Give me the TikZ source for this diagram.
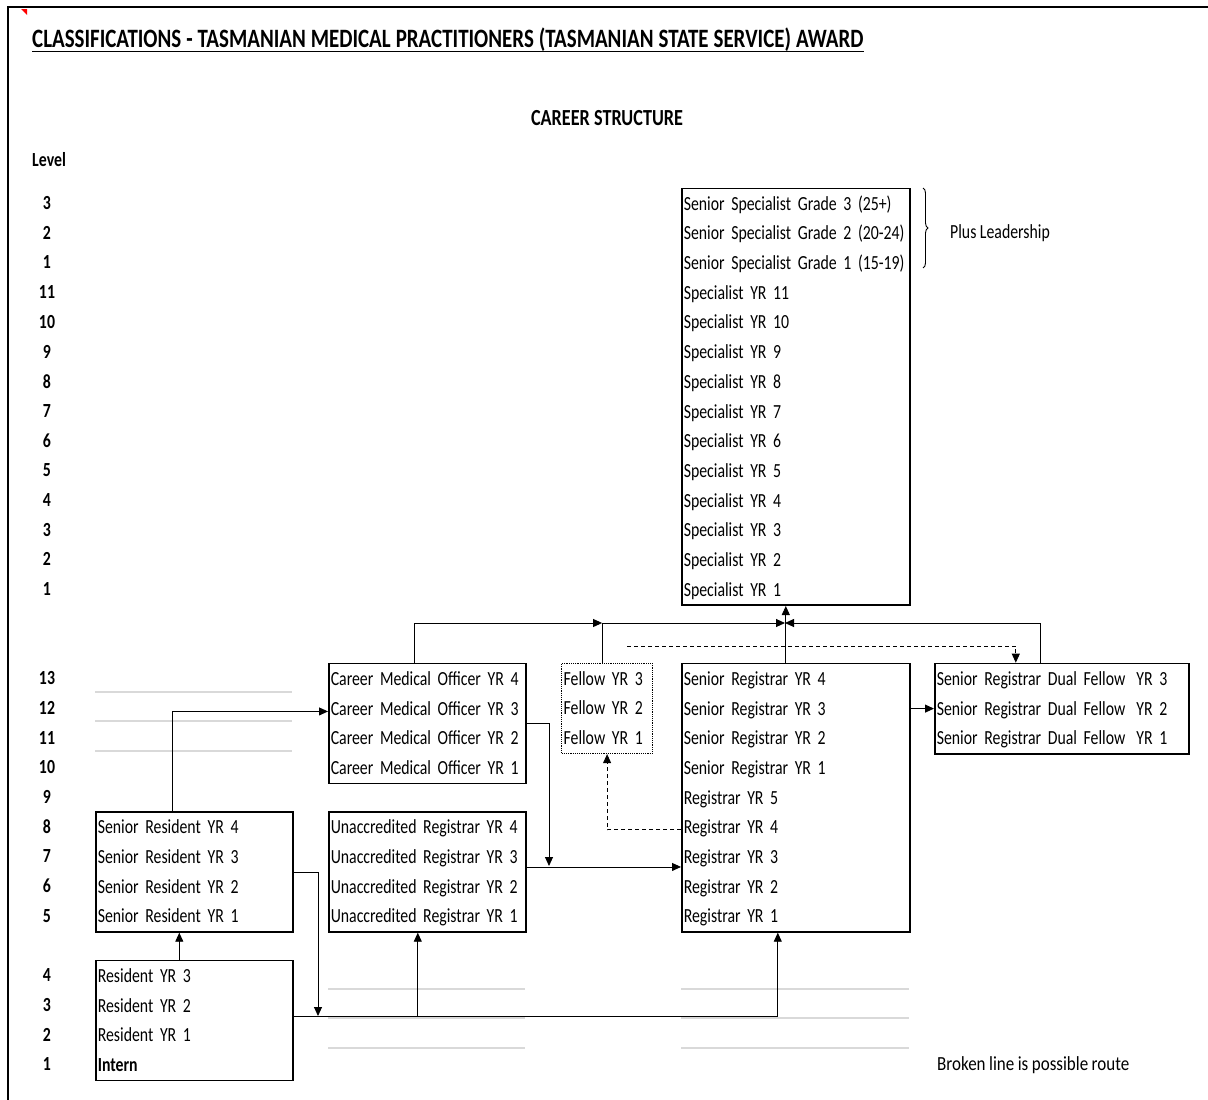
\documentclass[tikz,border=0pt]{standalone}
\usepackage{fontspec}
\setmainfont{Carlito}[FakeStretch=0.79]
\newfontfamily\widefont{Carlito}[FakeStretch=0.85]
\usetikzlibrary{arrows.meta,positioning,decorations.pathreplacing}

\newcommand\cellfont{\fontsize{20}{29.7}\selectfont\spaceskip=3.5pt plus 1pt minus 1pt\relax}
\newcommand\headfont{\fontsize{26.5}{30}\selectfont\bfseries\spaceskip=5pt plus 1pt minus 1pt\relax}
\newcommand\subheadfont{\fontsize{23}{26}\selectfont\bfseries\spaceskip=4.4pt plus 1pt minus 1pt\relax}
\newcommand\rs{\rule[-8.4pt]{0pt}{29.6pt}}

\tikzset{
  grade/.style={draw, line width=1.6pt, fill=white, anchor=north west, inner xsep=2pt, inner ysep=0.6pt, align=left, font=\cellfont},
  link/.style={line width=0.9pt, -{Triangle[length=9pt,width=8pt]}},
  maybe/.style={link, dash pattern=on 4pt off 3pt},
  cellrule/.style={draw=black!15, line width=1.5pt},
  lvl/.style={font=\cellfont\bfseries},
  note/.style={font=\cellfont, anchor=west, inner sep=0pt},
}

\begin{document}
\begin{tikzpicture}[x=1pt, y=-1pt]
  \useasboundingbox (0,0) rectangle (1208,1100);

  % sheet frame and comment marker
  \draw[line width=2pt] (8,1100) -- (8,7) -- (1208,7);
  \fill[red] (21,9) -- (27,9) -- (27,15) -- cycle;

  % headings
  \node[note, font=\headfont] (title) at (32,40) {CLASSIFICATIONS - TASMANIAN MEDICAL PRACTITIONERS (TASMANIAN STATE SERVICE) AWARD};
  \draw[line width=1.5pt] ([yshift=-3.5pt]title.base west) -- ([yshift=-3.5pt]title.base east);
  \node[font=\subheadfont] (career) at (607,118) {CAREER STRUCTURE};
  \node[note, font=\cellfont\bfseries] (level) at (32,160) {Level};

  % level numbers
  \foreach \n [count=\k from 0] in {3,2,1,11,10,9,8,7,6,5,4,3,2,1}
    \node[lvl] (lv\k) at (47,{203+29.7*\k}) {\n};
  \foreach \n [count=\k from 16] in {13,12,11,10,9,8,7,6,5}
    \node[lvl] (lv\k) at (47,{203+29.7*\k}) {\n};
  \foreach \n [count=\k from 26] in {4,3,2,1}
    \node[lvl] (lv\k) at (47,{203+29.7*\k}) {\n};

  % grey cell borders
  \foreach \y in {692,721,751}
    \draw[cellrule] (95,\y) -- (292,\y);
  \foreach \y in {989,1018,1048}
    \draw[cellrule] (328,\y) -- (525,\y) (681,\y) -- (909,\y);

  % grades
  \node[grade, text width=224pt] (spec) at (681,187.5) {\rs Senior Specialist Grade 3 (25+)\\ \rs Senior Specialist Grade 2 (20-24)\\ \rs Senior Specialist Grade 1 (15-19)\\ \rs Specialist YR 11\\ \rs Specialist YR 10\\ \rs Specialist YR 9\\ \rs Specialist YR 8\\ \rs Specialist YR 7\\ \rs Specialist YR 6\\ \rs Specialist YR 5\\ \rs Specialist YR 4\\ \rs Specialist YR 3\\ \rs Specialist YR 2\\ \rs Specialist YR 1};
  \node[grade, text width=193pt] (cmo) at (328,662.7) {\rs Career Medical Officer YR 4\\ \rs Career Medical Officer YR 3\\ \rs Career Medical Officer YR 2\\ \rs Career Medical Officer YR 1};
  \node[grade, text width=87pt, line width=1.2pt, densely dotted] (fellow) at (561,662.7) {\rs Fellow YR 3\\ \rs Fellow YR 2\\ \rs Fellow YR 1};
  \node[grade, text width=224pt] (sreg) at (681,662.7) {\rs Senior Registrar YR 4\\ \rs Senior Registrar YR 3\\ \rs Senior Registrar YR 2\\ \rs Senior Registrar YR 1\\ \rs Registrar YR 5\\ \rs Registrar YR 4\\ \rs Registrar YR 3\\ \rs Registrar YR 2\\ \rs Registrar YR 1};
  \node[grade, text width=250pt] (dual) at (934,662.7) {\rs Senior Registrar Dual Fellow\hspace{11pt}YR 3\\ \rs Senior Registrar Dual Fellow\hspace{11pt}YR 2\\ \rs Senior Registrar Dual Fellow\hspace{11pt}YR 1};
  \node[grade, text width=193pt] (senres) at (95,811.2) {\rs Senior Resident YR 4\\ \rs Senior Resident YR 3\\ \rs Senior Resident YR 2\\ \rs Senior Resident YR 1};
  \node[grade, text width=193pt] (unacc) at (328,811.2) {\rs Unaccredited Registrar YR 4\\ \rs Unaccredited Registrar YR 3\\ \rs Unaccredited Registrar YR 2\\ \rs Unaccredited Registrar YR 1};
  \node[grade, text width=193pt] (res) at (95,959.7) {\rs Resident YR 3\\ \rs Resident YR 2\\ \rs Resident YR 1\\ \rs\textbf{Intern}};

  % notes
  \draw[decorate, decoration={brace, amplitude=5pt}, line width=0.9pt] (923,188) -- (923,268);
  \node[note] (lead) at (950,233) {Plus Leadership};
  \node[note, font=\cellfont\widefont] (legend) at (937,1065) {Broken line is possible route};

  % routes
  \coordinate (hub) at (785,623);
  \coordinate (drop) at (318,1016);
  \coordinate (join) at (549,866);
  \coordinate (dstart) at (627,646);

  \draw[link] ([xshift=-21.5pt]senres.north) |- ([yshift=12pt]cmo.west);
  \draw[link] ([xshift=-15pt]res.north) -- ([xshift=-15pt]senres.south);
  \draw[link] (senres.east) -| (drop);
  \draw[link] ([yshift=4pt]res.east) -| ([xshift=-18pt]sreg.south);
  \draw[link] ([xshift=-9.5pt]unacc.south |- drop) -- ([xshift=-9.5pt]unacc.south);
  \draw[link] (cmo.east) -| (join);
  \draw[link] ([yshift=5pt]unacc.east) -- ([yshift=5pt]unacc.east -| sreg.west);
  \draw[maybe] ([yshift=-32pt]sreg.west) -| (fellow.south);
  \draw[link] ([xshift=-12.5pt]cmo.north) |- ([xshift=-5pt]fellow.north |- hub);
  \draw[line width=0.9pt] ([xshift=-5pt]fellow.north) -- ([xshift=-5pt]fellow.north |- hub);
  \draw[link] ([xshift=-5pt]fellow.north |- hub) -- (hub);
  \draw[link] ([xshift=-10pt]sreg.north) -- ([xshift=-10pt]spec.south);
  \draw[link] ([xshift=-21pt]dual.north) |- (hub);
  \draw[maybe] (dstart) -| ([xshift=-46pt]dual.north);
  \draw[link] (sreg.east |- dual.west) -- (dual.west);
\end{tikzpicture}
\end{document}
